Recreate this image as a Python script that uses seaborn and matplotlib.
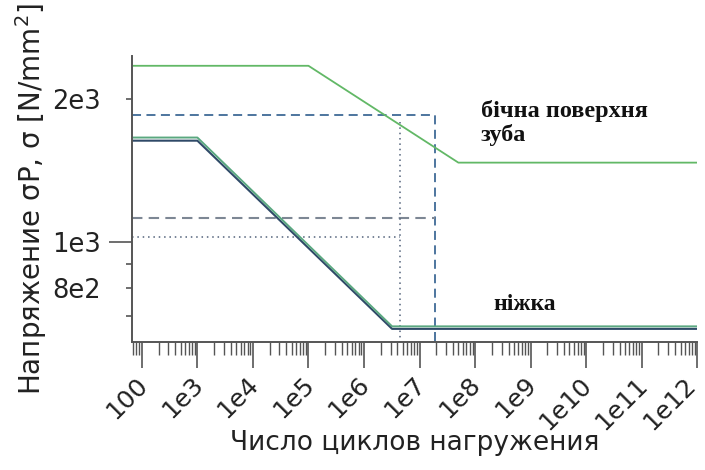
import matplotlib
matplotlib.use("Agg")
import matplotlib.pyplot as plt
from matplotlib.ticker import FixedLocator, FixedFormatter, LogLocator, NullFormatter
from matplotlib.transforms import ScaledTranslation
import pandas as pd
import seaborn as sns

# ── S-N curves ────────────────────────────────────────────────────────────────
x_min, x_max = 66, 1e12
y_min, y_max = 616, 2465

flank_cycles = [x_min, 1.0e5, 5.0e7, x_max]
flank_sigma = [2350, 2350, 1470, 1470]

root_cycles = [x_min, 1.0e3, 3.2e6, x_max]
root_sigma_a = [1660, 1660, 665, 665]
root_sigma_b = [1635, 1635, 657, 657]

# reference lines
ref_n_dashed = 1.86e7
ref_sigma_upper = 1850
ref_sigma_lower = 1123
ref_n_dotted = 4.5e6
ref_sigma_dotted = 1024
ref_sigma_dotted_top = 1790

x_ticks = [1e2, 1e3, 1e4, 1e5, 1e6, 1e7, 1e8, 1e9, 1e10, 1e11, 1e12]
x_labels = ["100", "1e3", "1e4", "1e5", "1e6", "1e7", "1e8", "1e9", "1e10", "1e11", "1e12"]
y_major = [1000]
y_major_labels = ["1e3"]
y_minor = [700, 800, 900, 2000]
y_minor_labels = ["", "8e2", "", "2e3"]

sns.set_style("ticks")
plt.rcParams["font.family"] = ["DejaVu Sans"]

fig = plt.figure(figsize=(7.05, 4.70), dpi=100)
ax = fig.add_axes([0.187, 0.272, 0.802, 0.609])


def draw(xs, ys, color, lw=1.3, ls="-"):
    df = pd.DataFrame({"n": xs, "s": ys})
    sns.lineplot(data=df, x="n", y="s", ax=ax, color=color, linewidth=lw,
                 linestyle=ls, estimator=None, sort=False)


# dashed / dotted construction lines
draw([x_min, ref_n_dashed, ref_n_dashed], [ref_sigma_upper, ref_sigma_upper, y_min],
     "#3f6a96", lw=1.3, ls=(0, (5, 3)))
draw([x_min, ref_n_dashed], [ref_sigma_lower, ref_sigma_lower],
     "#7d8794", lw=1.5, ls=(0, (5, 3)))
draw([x_min, ref_n_dotted], [ref_sigma_dotted, ref_sigma_dotted],
     "#52627a", lw=1.1, ls=(0, (1, 2.5)))
draw([ref_n_dotted, ref_n_dotted], [ref_sigma_dotted_top, y_min],
     "#52627a", lw=1.1, ls=(0, (1, 2.5)))

# S-N curves
draw(flank_cycles, flank_sigma, "#62b866", lw=1.3)
draw(root_cycles, root_sigma_b, "#2f4a68", lw=1.5)
draw(root_cycles, root_sigma_a, "#5aa880", lw=1.4)

ax.set_xscale("log")
ax.set_yscale("log")
ax.set_xlim(x_min, x_max)
ax.set_ylim(y_min, y_max)

ax.xaxis.set_major_locator(FixedLocator(x_ticks))
ax.xaxis.set_major_formatter(FixedFormatter(x_labels))
ax.xaxis.set_minor_locator(LogLocator(base=10, subs=range(2, 10), numticks=100))
ax.xaxis.set_minor_formatter(NullFormatter())

ax.yaxis.set_major_locator(FixedLocator(y_major))
ax.yaxis.set_major_formatter(FixedFormatter(y_major_labels))
ax.yaxis.set_minor_locator(FixedLocator(y_minor))
ax.yaxis.set_minor_formatter(FixedFormatter(y_minor_labels))

spine_color = "#555555"
for side in ["top", "right"]:
    ax.spines[side].set_visible(False)
for side in ["left", "bottom"]:
    ax.spines[side].set_color(spine_color)
    ax.spines[side].set_linewidth(1.4)

ax.tick_params(axis="y", which="major", length=16.5, width=1.2, pad=6,
               labelsize=18.5, color=spine_color, labelcolor="#222222")
ax.tick_params(axis="y", which="minor", length=4.3, width=1.2, pad=18.2,
               labelsize=18.5, color=spine_color, labelcolor="#222222")
ax.tick_params(axis="x", which="major", length=19, width=1.2, pad=9,
               labelsize=18, color=spine_color, labelcolor="#222222")
ax.tick_params(axis="x", which="minor", length=9.5, width=1.0,
               color=spine_color)
xlabels = ax.get_xticklabels()
for i, lbl in enumerate(xlabels):
    dx = -5 if i == len(xlabels) - 1 else 2
    lbl.set_rotation(45)
    lbl.set_ha("right")
    lbl.set_va("center")
    lbl.set_rotation_mode("anchor")
    lbl.set_transform(lbl.get_transform()
                      + ScaledTranslation(dx / 100, 0, fig.dpi_scale_trans))

ax.set_xlabel("Число циклов нагружения", fontsize=19, labelpad=-3,
              color="#222222")
ax.set_ylabel("Напряжение σP, σ [N/mm$^2$]", fontsize=20, labelpad=2,
              color="#222222")

# annotations
ax.text(1.27e8, 1780, "бічна поверхня\nзуба", fontsize=17.5, fontweight="bold",
        family=["Liberation Serif"], ha="left", va="center", linespacing=1.1,
        color="#111111")
ax.text(2.1e8, 740, "ніжка", fontsize=17, fontweight="bold",
        family=["Liberation Serif"], ha="left", va="center", color="#111111")

fig.savefig("out.png", dpi=100)
